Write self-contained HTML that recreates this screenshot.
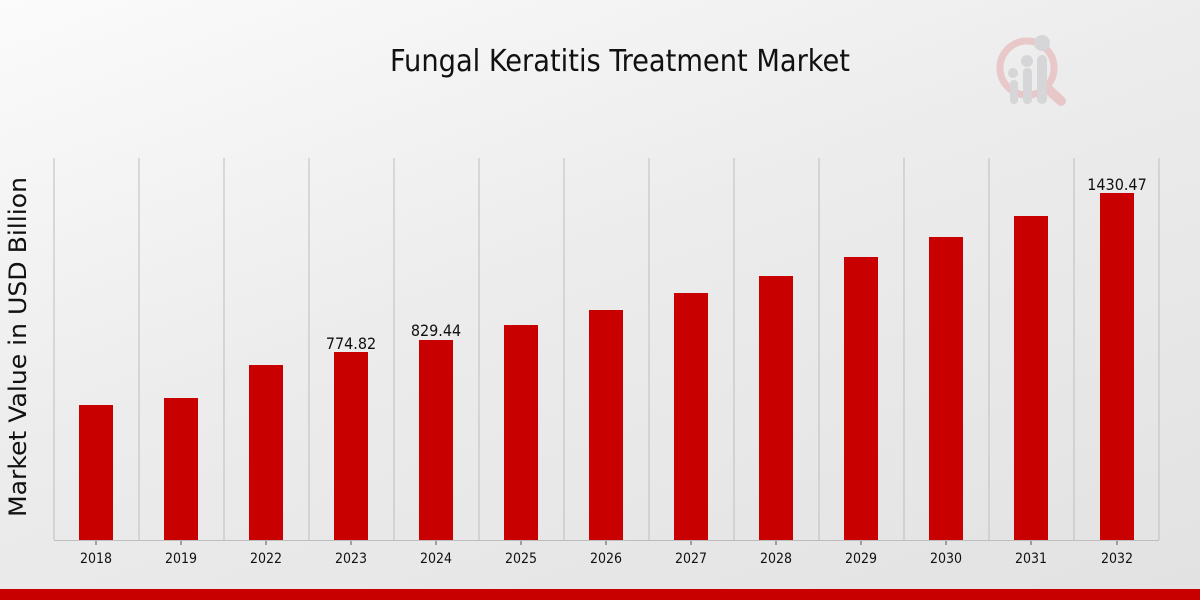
<!DOCTYPE html>
<html><head><meta charset="utf-8"><style>
html,body{margin:0;padding:0}
body{width:1200px;height:600px;overflow:hidden;background:linear-gradient(160deg,#fbfbfb 0%,#ececec 45%,#e2e2e2 100%);font-family:"DejaVu Sans","Liberation Sans",sans-serif}
</style></head><body>
<svg width="1200" height="600" xmlns="http://www.w3.org/2000/svg" style="position:absolute;left:0;top:0">
<text x="620" y="71" text-anchor="middle" font-family="'DejaVu Sans Condensed','DejaVu Sans',sans-serif" font-stretch="condensed" font-size="30" textLength="460" lengthAdjust="spacingAndGlyphs" fill="#111">Fungal Keratitis Treatment Market</text>
<g opacity="0.9">
<circle cx="1027" cy="68" r="27" fill="none" stroke="#e8c4c6" stroke-width="7"/>
<line x1="1047" y1="88" x2="1061" y2="101" stroke="#e8c4c6" stroke-width="10" stroke-linecap="round"/>
<g fill="#d4d4d6"><rect x="1010" y="80" width="8" height="24" rx="4"/><rect x="1023" y="68" width="9" height="36" rx="4"/><rect x="1037" y="55" width="10" height="49" rx="5"/>
<circle cx="1013" cy="73" r="5"/><circle cx="1027" cy="61" r="6"/><circle cx="1042" cy="43" r="8"/></g>
</g>
<g stroke="#bdbdbd" stroke-width="1">
<line x1="54" y1="158" x2="54" y2="540"/><line x1="139" y1="158" x2="139" y2="540"/><line x1="224" y1="158" x2="224" y2="540"/><line x1="309" y1="158" x2="309" y2="540"/><line x1="394" y1="158" x2="394" y2="540"/><line x1="479" y1="158" x2="479" y2="540"/><line x1="564" y1="158" x2="564" y2="540"/><line x1="649" y1="158" x2="649" y2="540"/><line x1="734" y1="158" x2="734" y2="540"/><line x1="819" y1="158" x2="819" y2="540"/><line x1="904" y1="158" x2="904" y2="540"/><line x1="989" y1="158" x2="989" y2="540"/><line x1="1074" y1="158" x2="1074" y2="540"/><line x1="1159" y1="158" x2="1159" y2="540"/>
<line x1="54" y1="540.5" x2="1159" y2="540.5"/>
</g>
<g fill="#c80000">
<rect x="79" y="405" width="34" height="135"/><rect x="164" y="398" width="34" height="142"/><rect x="249" y="365" width="34" height="175"/><rect x="334" y="352" width="34" height="188"/><rect x="419" y="340" width="34" height="200"/><rect x="504" y="325" width="34" height="215"/><rect x="589" y="310" width="34" height="230"/><rect x="674" y="293" width="34" height="247"/><rect x="759" y="276" width="34" height="264"/><rect x="844" y="257" width="34" height="283"/><rect x="929" y="237" width="34" height="303"/><rect x="1014" y="216" width="34" height="324"/><rect x="1100" y="193" width="34" height="347"/>
</g>
<g stroke="#555" stroke-width="1">
<line x1="96" y1="541" x2="96" y2="545"/><line x1="181" y1="541" x2="181" y2="545"/><line x1="266" y1="541" x2="266" y2="545"/><line x1="351" y1="541" x2="351" y2="545"/><line x1="436" y1="541" x2="436" y2="545"/><line x1="521" y1="541" x2="521" y2="545"/><line x1="606" y1="541" x2="606" y2="545"/><line x1="691" y1="541" x2="691" y2="545"/><line x1="776" y1="541" x2="776" y2="545"/><line x1="861" y1="541" x2="861" y2="545"/><line x1="946" y1="541" x2="946" y2="545"/><line x1="1031" y1="541" x2="1031" y2="545"/><line x1="1117" y1="541" x2="1117" y2="545"/>
</g>
<g font-size="14" fill="#111" text-anchor="middle" font-family="'DejaVu Sans Condensed','DejaVu Sans',sans-serif" font-stretch="condensed">
<text x="96" y="563">2018</text><text x="181" y="563">2019</text><text x="266" y="563">2022</text><text x="351" y="563">2023</text><text x="436" y="563">2024</text><text x="521" y="563">2025</text><text x="606" y="563">2026</text><text x="691" y="563">2027</text><text x="776" y="563">2028</text><text x="861" y="563">2029</text><text x="946" y="563">2030</text><text x="1031" y="563">2031</text><text x="1117" y="563">2032</text>
<text x="351" y="349" font-size="16">774.82</text><text x="436" y="336" font-size="16">829.44</text><text x="1117" y="190" font-size="16">1430.47</text>
</g>
<text transform="translate(26,347) rotate(-90)" text-anchor="middle" font-size="24" textLength="340" lengthAdjust="spacingAndGlyphs" fill="#111">Market Value in USD Billion</text>
<rect x="0" y="589" width="1200" height="11" fill="#c80000"/>
</svg>
</body></html>
